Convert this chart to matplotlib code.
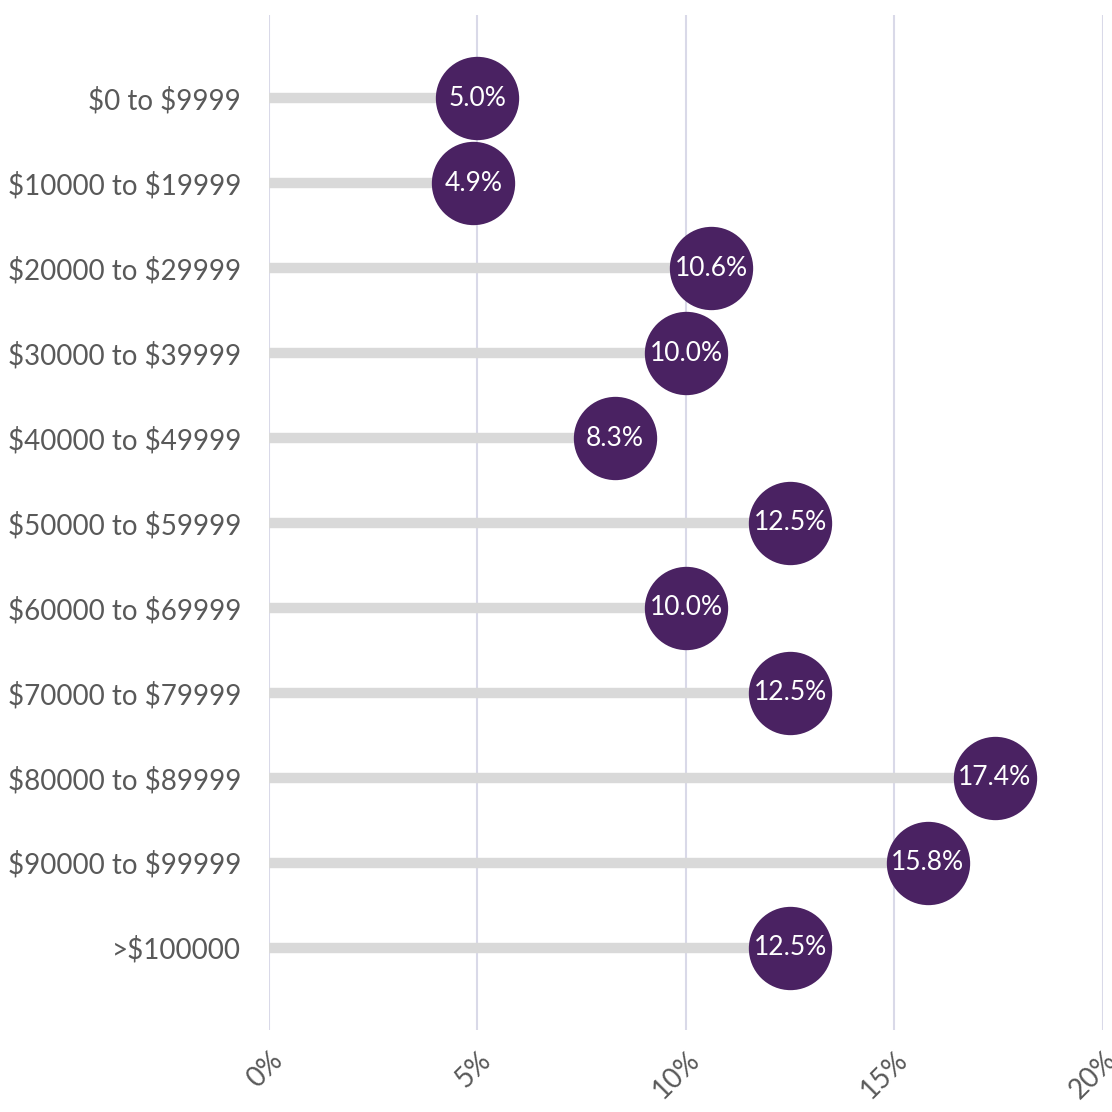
import matplotlib
matplotlib.use('Agg')
import matplotlib.pyplot as plt
import numpy as np

categories = ['$0 to $9999', '$10000 to $19999', '$20000 to $29999', '$30000 to $39999',
              '$40000 to $49999', '$50000 to $59999', '$60000 to $69999', '$70000 to $79999',
              '$80000 to $89999', '$90000 to $99999', '>$100000']
values = [5.0, 4.9, 10.6, 10.0, 8.3, 12.5, 10.0, 12.5, 17.4, 15.8, 12.5]
x_ticks = [0, 5, 10, 15, 20]

plt.rcParams['font.family'] = ['Lato', 'DejaVu Sans']
plt.rcParams['text.parse_math'] = False

fig = plt.figure(figsize=(11.12, 11.12), dpi=100)
ax = fig.add_axes([0.2419, 0.0737, 0.75, 0.9128])

y = np.arange(len(categories))
ax.hlines(y, 0, values, color='#d9d9d9', linewidth=7.5, zorder=2)
ax.plot(values, y, 'o', markersize=60, color='#4a2262', markeredgewidth=0, zorder=3)
for v, yy in zip(values, y):
    ax.text(v, yy, f'{v:.1f}%', color='white', fontsize=19, ha='center', va='center', zorder=4)

ax.set_xlim(0, 20)
ax.set_ylim(len(categories) - 0.03, -0.98)
ax.set_xticks(x_ticks)
ax.set_xticklabels([f'{t}%' for t in x_ticks], rotation=45, ha='right', rotation_mode='anchor',
                   fontsize=20, color='#595959')
ax.set_yticks(y)
ax.set_yticklabels(categories, fontsize=20, color='#595959')
ax.tick_params(axis='both', length=0)
ax.tick_params(axis='y', pad=20)
ax.tick_params(axis='x', pad=12)
ax.grid(axis='x', color='#d9d9e8', linewidth=1.5, zorder=0)
ax.set_axisbelow(True)
for s in ax.spines.values():
    s.set_visible(False)

fig.savefig('out.png', dpi=100)
